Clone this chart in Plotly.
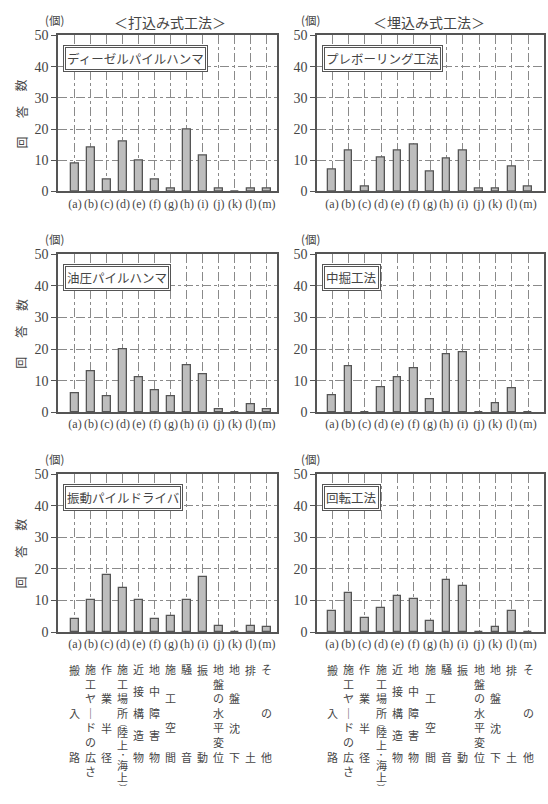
import plotly.graph_objects as go

# Category codes and names (shared by all six panels)
codes = ["(a)", "(b)", "(c)", "(d)", "(e)", "(f)", "(g)", "(h)", "(i)", "(j)", "(k)", "(l)", "(m)"]
names = ["搬入路", "施工ヤードの広さ", "作業半径", "施工場所（陸上・海上）", "近接構造物",
         "地中障害物", "施工空間", "騒音", "振動", "地盤の水平変位", "地盤沈下", "排土", "その他"]

groups = ["＜打込み式工法＞", "＜埋込み式工法＞"]
methods = ["ディーゼルパイルハンマ", "プレボーリング工法", "油圧パイルハンマ",
           "中掘工法", "振動パイルドライバ", "回転工法"]

# Number of answers (個) per category
diesel_hammer = [9, 14, 4, 16, 10, 4, 1, 20, 11.5, 1, 0, 1, 1]
preboring = [7, 13, 1.5, 11, 13, 15, 6.5, 10.5, 13, 1, 1, 8, 1.5]
hydraulic_hammer = [6, 13, 5, 20, 11, 7, 5, 15, 12, 1, 0, 2.5, 1]
inner_excavation = [5.5, 14.5, 0, 8, 11, 14, 4, 18.5, 19, 0, 3, 7.5, 0]
vibro_driver = [4, 10, 18, 14, 10, 4, 5, 10, 17.5, 2, 0, 2, 1.5]
rotary = [6.5, 12.5, 4.5, 7.5, 11.5, 10.5, 3.5, 16.5, 14.5, 0, 1.5, 6.5, 0]

series = [diesel_hammer, preboring, hydraulic_hammer, inner_excavation, vibro_driver, rotary]
y_ticks = [0, 10, 20, 30, 40, 50]

W, H = 548, 804
col_px = [(58, 277), (317, 544)]
row_px = [(29, 188), (252, 413), (476, 637)]
x_ranges = [(-1.06, 12.63), (-0.92, 12.98)]

TXT = "#454545"
LINE = "#555555"
GRID = "#8a8a8a"
JP = "Noto Sans CJK JP"
JP_STACK = "Liberation Sans, Noto Sans CJK JP"
SERIF = "Liberation Serif"

# vertical forms used when the names are set top-to-bottom
VERTICAL = {"（": "︵", "）": "︶", "ー": "｜"}
SMALL = "︵︶・"


def stack_positions(glyphs):
    """Row offsets (in rows) of each glyph of a vertically set name."""
    if len(glyphs) < 7:
        step = 6 / (len(glyphs) - 1)
        return [j * step for j in range(len(glyphs))]
    pos = [0.0]
    for j in range(1, len(glyphs)):
        if glyphs[j] in SMALL or glyphs[j - 1] in SMALL:
            adv = 0.66
        elif len(glyphs) > 8:
            adv = 0.9
        else:
            adv = 1.0
        pos.append(pos[-1] + adv)
    # the first four characters of the long name keep a full row each
    if len(glyphs) > 8:
        shift = 3 - pos[3]
        pos = [p if j < 4 else p + shift for j, p in enumerate(pos)]
        pos[1], pos[2], pos[3] = 1.0, 2.0, 3.0
    return pos


xs = list(range(len(codes)))
fig = go.Figure()
annotations = []

for k, vals in enumerate(series):
    r, c = divmod(k, 2)
    n = k + 1
    xa = "x" if n == 1 else f"x{n}"
    ya = "y" if n == 1 else f"y{n}"
    x0, x1 = col_px[c]
    top, bot = row_px[r]

    fig.add_trace(go.Bar(
        x=xs, y=vals, width=0.47, xaxis=xa, yaxis=ya,
        marker=dict(color="#bdbdbd", line=dict(color=LINE, width=1.3)),
        showlegend=False, hoverinfo="x+y",
    ))

    xkey = "xaxis" if n == 1 else f"xaxis{n}"
    ykey = "yaxis" if n == 1 else f"yaxis{n}"
    fig.update_layout({
        xkey: dict(
            domain=[x0 / W, x1 / W], anchor=ya, range=list(x_ranges[c]),
            tickmode="array", tickvals=xs, ticktext=codes, ticks="", tickangle=0,
            tickfont=dict(family=SERIF, size=12, color=TXT),
            showgrid=True, gridcolor=GRID, griddash="dashdot", gridwidth=1,
            showline=True, linecolor=LINE, linewidth=1.5, mirror=True,
            zeroline=False, fixedrange=True,
        ),
        ykey: dict(
            domain=[1 - bot / H, 1 - top / H], anchor=xa, range=[0, 50],
            tickmode="array", tickvals=y_ticks, ticks="outside", ticklen=5,
            tickcolor=LINE, tickwidth=1,
            tickfont=dict(family=SERIF, size=14, color=TXT),
            showgrid=True, gridcolor=GRID, griddash="dashdot", gridwidth=1,
            showline=True, linecolor=LINE, linewidth=1.5, mirror=True,
            zeroline=False, fixedrange=True,
        ),
    })

    dom_w = x1 - x0
    dom_h = bot - top
    # method name in a double-ruled box
    box = dict(xref=f"{xa} domain", yref=f"{ya} domain", x=5 / dom_w, y=1 - 10 / dom_h,
               xanchor="left", yanchor="top", showarrow=False, text=methods[k],
               bordercolor=LINE, borderwidth=1, bgcolor="white")
    annotations.append(dict(box, borderpad=3,
                            font=dict(family=JP, size=12.5, color="rgba(0,0,0,0)")))
    annotations.append(dict(box, borderpad=1, xshift=2, yshift=-2,
                            font=dict(family=JP, size=12.5, color=TXT)))

    # unit label above the value axis
    annotations.append(dict(xref=f"{xa} domain", yref=f"{ya} domain", x=0, y=1,
                            xshift=-4 if c == 0 else -7, yshift=15,
                            xanchor="center", yanchor="middle", showarrow=False,
                            text="(個)", font=dict(family=JP, size=11.5, color=TXT)))

    # axis title on the left column, spaced characters
    if c == 0:
        for ch, fy in zip("回答数", [0.314, 0.509, 0.679]):
            annotations.append(dict(xref="paper", yref=f"{ya} domain", x=21 / W, y=fy,
                                    xanchor="center", yanchor="middle", showarrow=False,
                                    text=ch, textangle=-90,
                                    font=dict(family=JP, size=12, color=TXT)))

    # vertical category names under the bottom row
    if r == 2:
        row_step = 14.8
        y_first = 676
        for i, name in enumerate(names):
            glyphs = [VERTICAL.get(g, g) for g in name]
            for g, p in zip(glyphs, stack_positions(glyphs)):
                annotations.append(dict(xref=xa, yref="paper", x=i,
                                        y=1 - (y_first + p * row_step) / H,
                                        xanchor="center", yanchor="middle",
                                        showarrow=False, borderpad=0, text=g,
                                        font=dict(family=JP_STACK,
                                                  size=8 if g in SMALL else 11,
                                                  color=TXT)))

# group headings
for c, g in enumerate(groups):
    annotations.append(dict(xref="paper", yref="paper", x=[170, 429][c] / W, y=1 - 15 / H,
                            xanchor="center", yanchor="middle", showarrow=False,
                            text=g, font=dict(family=JP, size=14, color=TXT)))

fig.update_layout(
    width=W, height=H, margin=dict(l=0, r=0, t=0, b=0),
    paper_bgcolor="white", plot_bgcolor="white",
    bargap=0, annotations=annotations, showlegend=False,
)

fig.write_html("out.html", config={"displayModeBar": False})
